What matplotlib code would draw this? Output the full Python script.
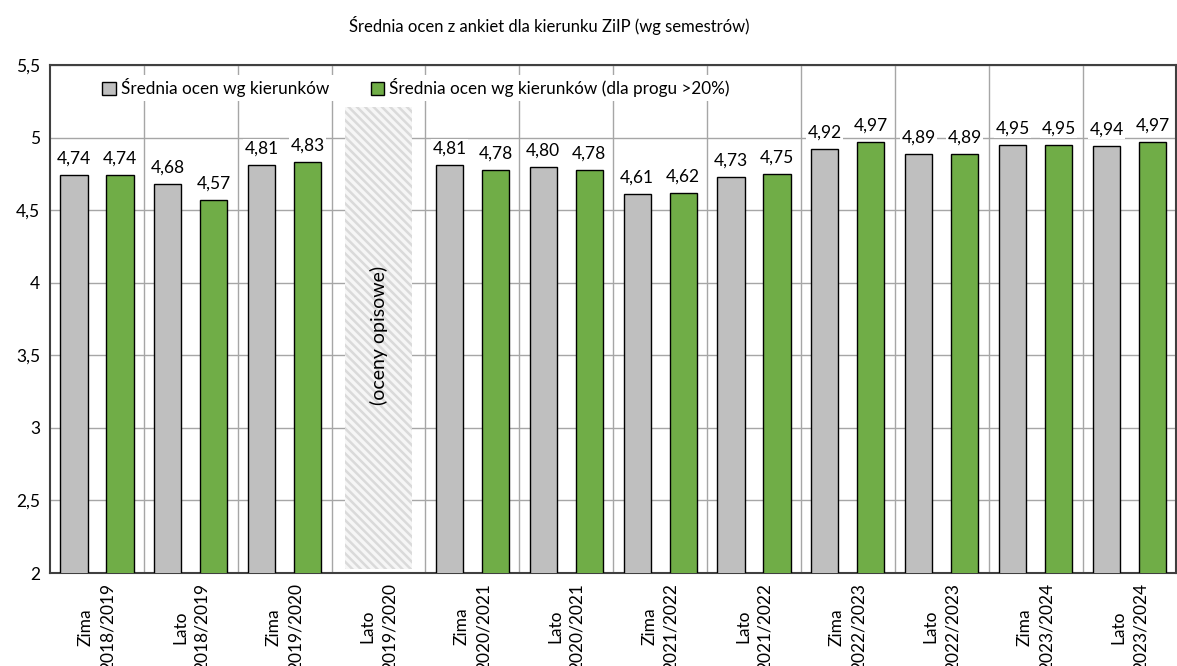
import numpy as np
from matplotlib import pyplot as plt
from matplotlib.patches import Patch

plt.rcParams['font.family'] = ['Lato', 'DejaVu Sans']

semesters = ['Zima\n2018/2019', 'Lato\n2018/2019', 'Zima\n2019/2020', 'Lato\n2019/2020',
             'Zima\n2020/2021', 'Lato\n2020/2021', 'Zima\n2021/2022', 'Lato\n2021/2022',
             'Zima\n2022/2023', 'Lato\n2022/2023', 'Zima\n2023/2024', 'Lato\n2023/2024']
avg_all = [4.74, 4.68, 4.81, np.nan, 4.81, 4.80, 4.61, 4.73, 4.92, 4.89, 4.95, 4.94]
avg_20 = [4.74, 4.57, 4.83, np.nan, 4.78, 4.78, 4.62, 4.75, 4.97, 4.89, 4.95, 4.97]
note_idx = 3  # semester with descriptive grades only
note_text = '(oceny opisowe)'

gray = '#BFBFBF'
green = '#70AD47'

fig = plt.figure(figsize=(11.77, 6.66), dpi=100)
ax = fig.add_axes([0.0425, 0.1396, 0.957, 0.7628])

x = np.arange(len(semesters))
w = 0.29
off = 0.245

ax.bar(x - off, avg_all, w, color=gray, edgecolor='black', linewidth=1, zorder=3)
ax.bar(x + off, avg_20, w, color=green, edgecolor='black', linewidth=1, zorder=3)

# value labels with white background
for xs, vals in ((x - off, avg_all), (x + off, avg_20)):
    for xi, v in zip(xs, vals):
        if np.isnan(v):
            continue
        ax.annotate(f'{v:.2f}'.replace('.', ','), (xi, v), xytext=(0, 6),
                    textcoords='offset points', ha='center', va='bottom', fontsize=12.5,
                    bbox=dict(facecolor='white', edgecolor='none', pad=1), zorder=4)

# hatched placeholder for the semester without numeric grades
plt.rcParams['hatch.linewidth'] = 1.8
ax.bar(note_idx, 5.21 - 2.03, 0.71, bottom=2.03, facecolor='#F6F6F6',
       edgecolor='#DADADA', hatch='\\\\\\\\', linewidth=0, zorder=3)
ax.text(note_idx, 3.64, note_text, rotation=90, ha='center', va='center', fontsize=14, zorder=4)

ax.set_ylim(2, 5.5)
ax.set_xlim(-0.5, len(semesters) - 0.5)
yt = np.arange(2, 5.51, 0.5)
ax.set_yticks(yt)
ax.set_yticklabels([f'{t:g}'.replace('.', ',') for t in yt], fontsize=12.5)
ax.set_xticks(x)
ax.set_xticklabels(semesters, rotation=90, fontsize=12.5, linespacing=1.45)
ax.set_xticks(x[:-1] + 0.5, minor=True)
ax.tick_params(axis='both', which='both', length=0)
ax.tick_params(axis='y', pad=7)
ax.tick_params(axis='x', pad=7)

ax.grid(axis='y', color='#A6A6A6', linewidth=1)
ax.grid(axis='x', which='minor', color='#A6A6A6', linewidth=1)
ax.set_axisbelow(True)
for s in ax.spines.values():
    s.set_color('#404040')
    s.set_linewidth(1.5)

handles = [Patch(facecolor=gray, edgecolor='black', label='Średnia ocen wg kierunków'),
           Patch(facecolor=green, edgecolor='black', label='Średnia ocen wg kierunków (dla progu >20%)')]
leg = ax.legend(handles=handles, loc='center', bbox_to_anchor=(0.325, 0.955), ncol=2,
                fontsize=12.3, frameon=True, fancybox=False, edgecolor='none',
                columnspacing=2.4, handlelength=0.8, handleheight=0.8, handletextpad=0.3,
                borderpad=0.2)
leg.get_frame().set_alpha(1)
leg.set_zorder(5)

fig.text(0.467, 0.962, 'Średnia ocen z ankiet dla kierunku ZiIP (wg semestrów)',
         ha='center', va='center', fontsize=12)

plt.savefig('out.png')
